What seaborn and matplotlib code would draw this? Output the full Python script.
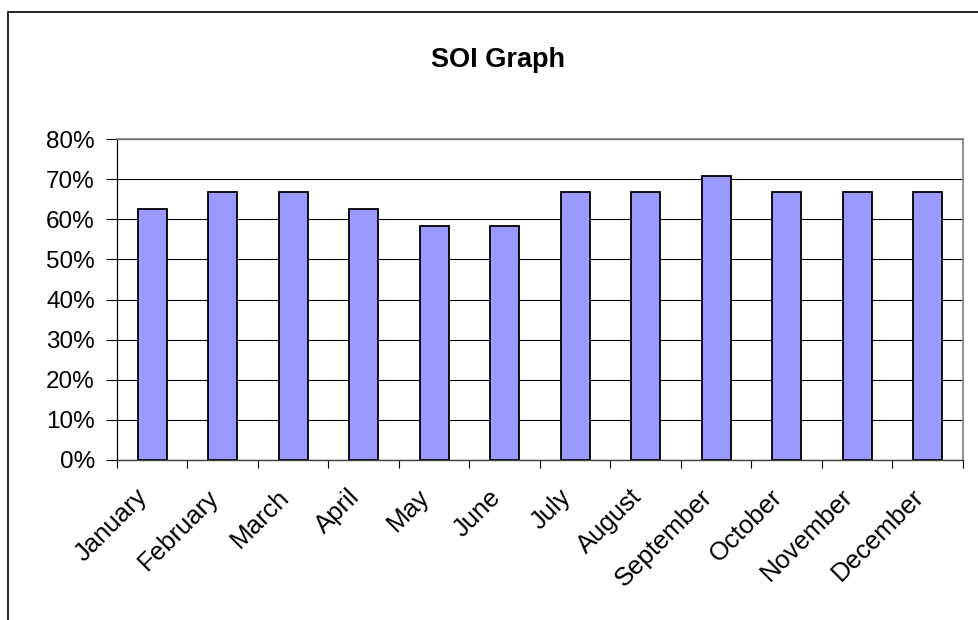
import matplotlib
matplotlib.use("Agg")
import matplotlib.pyplot as plt
import matplotlib.transforms as mtransforms
from matplotlib.patches import Rectangle
from matplotlib.ticker import FixedLocator, FuncFormatter
import seaborn as sns
import pandas as pd

# Monthly SOI share (percent)
months = ["January", "February", "March", "April", "May", "June",
          "July", "August", "September", "October", "November", "December"]
soi_pct = [62.5, 66.7, 66.7, 62.5, 58.3, 58.3, 66.7, 66.7, 70.8, 66.7, 66.7, 66.7]
y_ticks = [0, 10, 20, 30, 40, 50, 60, 70, 80]
title = "SOI Graph"

df = pd.DataFrame({"month": months, "soi": soi_pct})

sns.set_style("white")
plt.rcParams["font.family"] = ["Liberation Sans", "DejaVu Sans"]
plt.rcParams["text.color"] = "black"
plt.rcParams["xtick.color"] = "black"
plt.rcParams["ytick.color"] = "black"

fig = plt.figure(figsize=(9.79, 6.2), dpi=100)
ax = fig.add_axes([117 / 979, 1 - 460 / 620, 846 / 979, 321 / 620])

sns.barplot(data=df, x="month", y="soi", order=months, color="#9999FF",
            width=0.41, edgecolor="black", linewidth=1.3, saturation=1,
            zorder=3, ax=ax)
for p in ax.patches:
    p.set_facecolor("#9999FF")

ax.set_xlim(-0.5, len(months) - 0.5)
ax.set_ylim(0, 80)
ax.set_xlabel("")
ax.set_ylabel("")

# gridlines
ax.set_yticks(y_ticks)
ax.yaxis.set_major_formatter(FuncFormatter(lambda v, _: f"{v:.0f}%"))
ax.grid(axis="y", color="black", linewidth=0.8, zorder=0)
ax.grid(axis="x", visible=False)

# plot-area border
for side in ["top", "right"]:
    ax.spines[side].set_visible(True)
    ax.spines[side].set_color("#808080")
    ax.spines[side].set_linewidth(1.2)
ax.spines["left"].set_color("black")
ax.spines["left"].set_linewidth(0.9)
ax.spines["bottom"].set_color("#404040")
ax.spines["bottom"].set_linewidth(1.0)
for s in ax.spines.values():
    s.set_zorder(4)

# ticks
ax.tick_params(axis="y", which="major", direction="out", length=8, width=0.8,
               color="black", left=True, pad=8, labelsize=17.5,
               labelcolor="black")
ax.xaxis.set_minor_locator(FixedLocator([i - 0.5 for i in range(len(months) + 1)]))
ax.tick_params(axis="x", which="minor", direction="out", length=6, width=0.8,
               color="black", bottom=True)
ax.tick_params(axis="x", which="major", length=0, pad=24, labelsize=18.5,
               labelcolor="black")
offset = mtransforms.ScaledTranslation(-8 / 100, 0, fig.dpi_scale_trans)
for lbl in ax.get_xticklabels():
    lbl.set_rotation(45)
    lbl.set_rotation_mode("anchor")
    lbl.set_ha("right")
    lbl.set_va("center")
    lbl.set_transform(lbl.get_transform() + offset)

fig.text(498 / 979, 1 - 67 / 620, title, ha="center", va="baseline",
         fontsize=19.5, fontweight="bold", color="black")

# chart-area frame
fig.patches.append(Rectangle((8 / 979, -0.2), 1.2, 1.2 - 12 / 620,
                             transform=fig.transFigure, fill=False,
                             edgecolor="black", linewidth=1.2, clip_on=False))

fig.savefig("out.png", dpi=100, facecolor="white")
